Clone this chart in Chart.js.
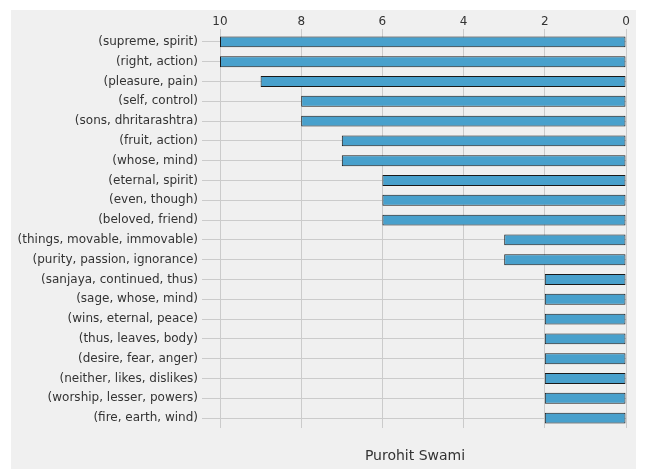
<!DOCTYPE html>
<html>
<head>
<meta charset="utf-8">
<script src="https://cdn.jsdelivr.net/npm/chart.js@4"></script>
<style>
  body { margin: 0; background: #ffffff; }
  canvas { display: block; }
</style>
</head>
<body>
<canvas id="bigramChart" width="646" height="469"></canvas>
<script>
// ngrams and their counts
const ngrams = [
  '(supreme, spirit)', '(right, action)', '(pleasure, pain)', '(self, control)',
  '(sons, dhritarashtra)', '(fruit, action)', '(whose, mind)', '(eternal, spirit)',
  '(even, though)', '(beloved, friend)', '(things, movable, immovable)',
  '(purity, passion, ignorance)', '(sanjaya, continued, thus)', '(sage, whose, mind)',
  '(wins, eternal, peace)', '(thus, leaves, body)', '(desire, fear, anger)',
  '(neither, likes, dislikes)', '(worship, lesser, powers)', '(fire, earth, wind)'
];
const counts = [10, 10, 9, 8, 8, 7, 7, 6, 6, 6, 3, 3, 2, 2, 2, 2, 2, 2, 2, 2];
const xTicks = [0, 2, 4, 6, 8, 10];
const translator = 'Purohit Swami';

// gray panel behind everything
const panelBg = {
  id: 'panelBg',
  beforeDraw(chart) {
    const c = chart.ctx;
    c.save();
    c.fillStyle = '#f0f0f0';
    c.fillRect(11, 10, 625, 459);
    c.restore();
  }
};

// translator name under the plot area
const bottomLabel = {
  id: 'bottomLabel',
  afterDraw(chart) {
    const c = chart.ctx;
    const area = chart.chartArea;
    c.save();
    c.font = '14px "DejaVu Sans"';
    c.fillStyle = '#333333';
    c.textAlign = 'center';
    c.textBaseline = 'middle';
    c.fillText(translator, (area.left + area.right) / 2 - 8, 456);
    c.restore();
  }
};

const ctx = document.getElementById('bigramChart').getContext('2d');
new Chart(ctx, {
  type: 'bar',
  data: {
    labels: ngrams,
    datasets: [{
      data: counts,
      backgroundColor: '#48a0cc',
      borderColor: '#1a1a1a',
      borderWidth: 1,
      borderSkipped: false,
      barPercentage: 0.55,
      categoryPercentage: 1
    }]
  },
  options: {
    indexAxis: 'y',
    responsive: false,
    animation: false,
    layout: { padding: { top: 12, right: 20, bottom: 41, left: 11 } },
    plugins: {
      legend: { display: false },
      tooltip: { enabled: false }
    },
    scales: {
      x: {
        position: 'top',
        reverse: true,
        min: 0,
        max: 10,
        afterBuildTicks(scale) {
          scale.ticks = xTicks.map(v => ({ value: v }));
        },
        afterFit(scale) { scale.height = 20; },
        grid: { color: '#cbcbcb', tickLength: 3 },
        border: { display: false },
        ticks: {
          color: '#333333',
          font: { family: 'DejaVu Sans', size: 12 },
          padding: 0
        }
      },
      y: {
        afterFit(scale) { scale.width = 209; },
        grid: { color: '#cbcbcb', tickLength: 18, offset: false },
        border: { display: false },
        ticks: {
          color: '#333333',
          font: { family: 'DejaVu Sans', size: 12 },
          padding: 4
        }
      }
    }
  },
  plugins: [panelBg, bottomLabel]
});
</script>
</body>
</html>
